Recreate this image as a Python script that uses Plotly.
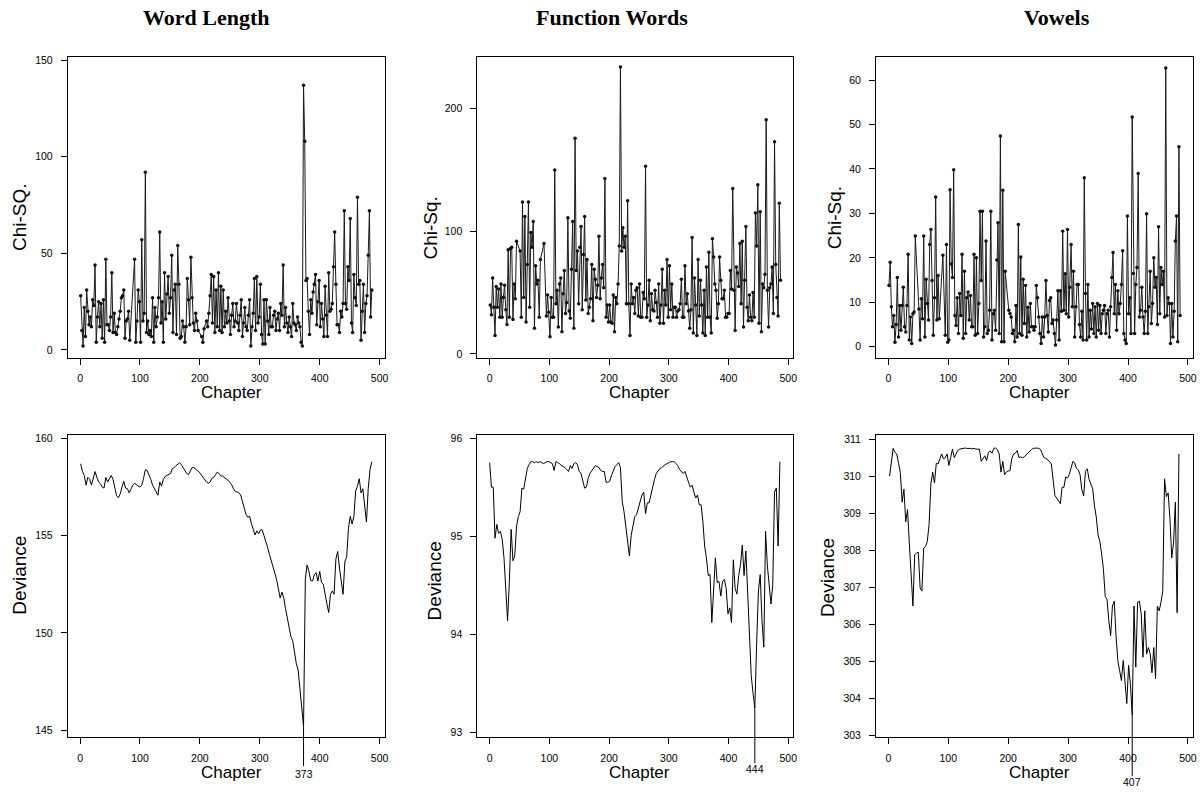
import plotly.graph_objects as go

W, H = 1201, 793

# ---------------- data ----------------
chap_top = list(range(1, 488, 2))

wl_chisq = [
    28, 10, 2, 22, 7, 31, 20, 13, 17, 12, 26, 23, 44, 4, 17, 25, 12, 24, 6, 26,
    4, 47, 13, 13, 10, 17, 40, 9, 19, 9, 8, 12, 16, 20, 27, 28, 31, 6, 15, 16,
    20, 5, None, None, None, 47, 4, 15, 31, 25, 4, 57, 15, 19, 92, 9, 15, 8, 10, 7,
    27, 4, 22, 12, 17, 27, 61, 14, 25, 4, 40, 16, 29, 38, 19, 27, 49, 9, 31, 34,
    8, 54, 34, 6, 7, 15, 12, 4, 12, 37, 26, 13, 48, 27, 14, 10, 19, 15, 10, None,
    None, 7, 4, 11, None, 15, 12, 19, 28, 39, 14, 38, 9, 31, 12, 40, 10, 33, 9, 31,
    12, 20, 14, 27, 15, 8, 18, 24, 12, 15, 24, 14, 10, 18, 26, 7, 14, 22, 12, 10,
    18, 26, 2, 12, 19, 37, 10, 38, 14, 17, 34, 8, 3, 26, 3, 26, 15, 8, 22, 12,
    12, 18, 20, 10, 16, 19, 10, 24, 18, 44, 12, 22, 14, 9, 17, 12, 7, 24, 14, 13,
    10, 17, 14, 12, 4, 2, 137, 108, 36, 37, 20, 8, 26, 19, 30, 34, 39, 13, 25, 36,
    12, 24, 16, 7, 33, 18, 7, 40, 20, 21, 24, 43, 61, 34, 13, 13, 9, 20, 17, 24,
    72, 24, 21, 43, 36, 68, 14, 9, 39, 27, 23, 79, 34, 36, 5, 20, 34, 9, 24, 28,
    49, 72, 17, 31,
]

fw_chisq = [
    40, 32, 62, 38, 15, 55, 38, 53, 30, 57, 30, 46, 56, 36, 24, 85, 30, 86, 87, 28,
    57, 45, 92, None, None, 84, 30, 124, 46, 112, 26, 73, 124, 38, 99, 87, 108, 21, 72, 57,
    60, 30, 77, None, None, 90, None, 31, 48, 34, 14, 46, 30, 30, 150, 41, 52, 22, 57, 62,
    18, 49, 68, 33, 42, 111, 35, 29, 69, 108, 21, 176, 68, 84, 41, 87, 104, 36, 81, 112,
    44, 77, 33, 38, 45, 73, 27, 69, 61, 46, 56, 96, 45, 62, 73, 54, 143, 30, 40, 26,
    40, 26, 25, 48, 18, 46, 41, 57, 88, 234, 84, 103, 87, 96, 41, 125, 41, 15, 57, 41,
    46, 33, 52, 54, 31, 57, 30, 30, 50, 45, 153, 30, 40, 60, 27, 49, 36, 35, 52, 42,
    30, 57, 25, 40, 69, 25, 52, 40, 77, 30, 72, 36, 57, 30, 38, 38, 30, 35, 36, 41,
    61, 30, 30, 72, 41, 49, 35, 21, 36, 95, 17, 62, 40, 15, 77, 31, 60, 40, 17, 52,
    15, 71, 30, 83, 30, 17, 94, 79, 57, 52, 29, 41, 79, 60, 45, 45, 52, 30, 30, 33,
    33, 68, 53, 135, 52, 19, 71, 66, 55, 90, 41, 92, 22, 60, 104, 38, 27, 48, 30, 27,
    50, 30, 115, 88, 138, 25, 116, 18, 57, 54, 65, 191, 52, 22, 54, 57, 71, 33, 173, 73,
    46, 31, 123, 60,
]

vw_chisq = [
    13.8, 19, 9, 4.5, 7, 1, 5, 15.6, 2.2, 9.3, 3.7, 9.3, 13.4, 4.5, 3.3, 9.3, 20.8, 1.5, 6.7, 0.7,
    7.4, 7.8, 24.9, None, None, 8.5, 1.5, 10.8, 6.3, 24.9, 2.2, 15.2, 9.7, 6, 23, 26.4, 14.9, 2.6, 11, 33.7,
    6, 16, 6.3, None, None, 20.6, None, 2.6, 23, 1, 1.5, 35.3, 18.6, 15.6, 39.8, 7, 4.8, 11, 3, 12,
    7, 20.8, 1.9, 17, 3, 11, 12.3, 6, 11.5, 4.5, 4.5, 20.8, 2.6, 20, 3, 9.7, 30.5, 14.9, 30.5, 2.2,
    4.5, 23.8, 3, 3.7, 8.2, 30.5, 1.5, 7.4, 8.2, 3.7, 19.5, 27.9, 3, 47.4, 1.1, 35.2, 1.1, 17, None, None,
    8.2, 7.5, 6.7, 3, 3.7, 1.1, 9.3, 2.2, 27.5, 3, 20.2, 2.6, 15.2, 5.2, 13.8, 2.2, 8.9, 3.3, 9.7, 4.5,
    4.5, 3.7, 4.5, 13.8, 11, 6.7, 3, 0.7, 6.7, 2.2, 6.7, 14.9, 7, 3.3, 10.4, 11, 5.2, 6, 3, 0.4,
    6, 12.6, 1.5, 12.6, 8, 26, 8.2, 16.4, 7.4, 26.4, 6.7, 13.4, 23, 9, 17, 2.2, 9, 14, 14, 5,
    2.2, 8, 1.5, 38, 12, 1.5, 14, 2.2, 8.2, 4, 9.7, 3, 9, 2.2, 9.7, 3.7, 9.3, 3, 7.4, 8.2,
    9.3, 3, 7.4, 8.2, 2.2, 9, 15.6, 21.2, 7.4, 14, 3.7, 12.6, 7.4, 9.7, 14, 21.6, 3, 1.5, 0.7, 29.4,
    7.4, 11, 3, 51.7, 16.5, 3, 14, 17.8, 39, 6.7, 8.2, 13.4, 6.7, 3, 8, 29.9, 3, 9, 17, 5.2,
    9.7, 20, 13.4, 15.6, 5, 27, 7.4, 17.8, 14, 17, 6.7, 62.7, 7, 11, 9.7, 0.7, 9.7, 2.2, 8, 23.8,
    29.4, 1.1, 45, 7,
]

wl_dev_chap = list(range(1, 488, 3))
wl_dev = [
    158.7, 158.3, 158.1, 157.6, 158.0, 157.9, 157.6, 157.9, 158.3, 158.0,
    157.76, 157.67, 157.5, 157.45, 158.0, 157.76, 157.96, 158.1, 157.9, 157.4,
    157.05, 156.95, 157.15, 157.5, 157.8, 157.45, 157.42, 157.2, 157.4, 157.6,
    157.7, 157.6, 157.55, 157.5, 157.6, 157.95, 158.4, 158.35, 158.15, 157.9,
    157.6, 157.4, 157.2, 157.08, 157.76, 157.55, 157.9, 158.05, 158.1, 158.15,
    158.2, 158.45, 158.5, 158.6, 158.68, 158.74, 158.66, 158.52, 158.4, 158.2,
    158.15, 158.3, 158.5, 158.5, 158.44, 158.35, 158.27, 158.15, 158.0, 157.87,
    157.76, 157.7, 157.75, 157.95, 158.0, 158.13, 158.27, 158.2, 158.08, 158.06,
    158.0, 157.94, 157.85, 157.74, 157.62, 157.42, 157.28, 157.25, 157.2, 157.1,
    156.8, 156.45, 156.1, 155.95, 156.0, 155.63, 155.38, 155.04, 155.25, 155.1,
    155.3, 155.3, 155.0, 154.75, 154.4, 154.05, 153.68, 153.34, 153.09, 152.75,
    152.3, 151.8, 152.1, 151.8, 151.25, 150.8, 150.25, 149.8, 149.6, 148.9,
    148.42, 148.1, 147.23, 146.13, 145.2, 152.8, 153.5, 153.17, 152.7, 152.67,
    153.0, 153.1, 152.67, 153.17, 152.6, 152.5, 151.9, 151.5, 151.05, 152.0,
    152.16, 151.99, 153.8, 154.19, 153.34, 152.6, 151.99, 153.68, 153.9, 155.38,
    156.0, 155.6, 155.98, 157.3, 157.55, 157.93, 157.2, 157.42, 156.65, 155.7,
    157.42, 158.4, 158.8,
]

fw_dev_chap = list(range(0, 487, 3))
fw_dev = [
    95.75, 95.5, 95.5, 94.98, 95.12, 95.03, 95.05, 94.97, 94.78, 94.47,
    94.14, 94.54, 95.07, 94.75, 94.8, 95.1, 95.2, 95.25, 95.49, 95.48,
    95.6, 95.69, 95.73, 95.76, 95.76, 95.75, 95.76, 95.75, 95.76, 95.75,
    95.74, 95.75, 95.76, 95.76, 95.75, 95.74, 95.67, 95.76, 95.75, 95.74,
    95.72, 95.71, 95.7, 95.68, 95.66, 95.72, 95.69, 95.74, 95.75, 95.73,
    95.66, 95.64, 95.56, 95.49, 95.5, 95.59, 95.64, 95.67, 95.7, 95.72,
    95.71, 95.7, 95.67, 95.66, 95.66, 95.55, 95.55, 95.56, 95.62, 95.66,
    95.71, 95.73, 95.75, 95.7, 95.35, 95.25, 95.1, 94.91, 94.8, 95.01,
    95.12, 95.2, 95.22, 95.28, 95.35, 95.42, 95.45, 95.23, 95.34, 95.34,
    95.42, 95.52, 95.58, 95.64, 95.67, 95.69, 95.7, 95.72, 95.73, 95.74,
    95.75, 95.76, 95.76, 95.76, 95.74, 95.72, 95.68, 95.66, 95.64, 95.66,
    95.59, 95.55, 95.5, 95.52, 95.45, 95.39, 95.42, 95.32, 95.32, 95.15,
    94.9, 94.78, 94.6, 94.61, 94.12, 94.5, 94.78, 94.53, 94.54, 94.39,
    94.54, 94.56, 94.47, 94.21, 94.27, 94.12, 94.76, 94.47, 94.41, 94.6,
    94.71, 94.91, 94.6, 94.85, 94.45, 94.0, 93.58, 93.4, 93.25, 93.9,
    94.44, 94.61, 94.14, 93.87, 95.05, 94.7, 94.51, 94.31, 94.5, 95.45,
    95.49, 94.9, 95.76,
]

vw_dev_chap = list(range(2, 486, 3))
vw_dev = [
    310.0, 310.45, 310.75, 310.64, 310.6, 310.35, 310.1, 309.3, 309.65, 308.77,
    309.1, 308.2, 307.17, 306.5, 307.88, 307.93, 307.95, 306.99, 306.9, 308.06,
    308.1, 308.24, 308.7, 309.8, 310.11, 309.82, 310.35, 310.33, 310.47, 310.6,
    310.47, 310.5, 310.6, 310.29, 310.5, 310.73, 310.5, 310.62, 310.7, 310.73,
    310.74, 310.76, 310.76, 310.75, 310.76, 310.75, 310.74, 310.75, 310.73, 310.72,
    310.73, 310.4, 310.47, 310.55, 310.42, 310.64, 310.68, 310.62, 310.75, 310.76,
    310.72, 310.6, 310.11, 310.4, 310.04, 310.11, 310.14, 310.15, 310.47, 310.6,
    310.62, 310.69, 310.5, 310.52, 310.5, 310.52, 310.58, 310.63, 310.69, 310.72,
    310.75, 310.76, 310.76, 310.75, 310.72, 310.6, 310.5, 310.48, 310.45, 310.4,
    310.33, 309.9, 309.48, 309.41, 309.35, 309.26, 309.7, 309.7, 309.98, 309.95,
    310.05, 310.2, 310.4, 310.36, 310.21, 310.17, 310.04, 309.63, 309.47, 310.13,
    310.2, 309.92, 309.78, 309.66, 309.2, 308.9, 308.42, 308.24, 307.9, 307.48,
    306.76, 306.68, 306.1, 305.7, 306.5, 306.63, 305.7, 305.03, 304.76, 304.49,
    305.03, 304.3, 303.87, 304.9, 304.4, 303.56, 306.5, 304.85, 306.6, 306.63,
    306.3, 305.12, 306.37, 305.2, 305.38, 305.21, 304.7, 305.38, 304.54, 306.5,
    306.37, 306.6, 306.9, 309.93, 309.45, 309.55, 308.86, 307.8, 308.2, 309.3,
    306.32, 310.6,
]

titles = ["Word Length", "Function Words", "Vowels"]
top_ytitles = ["Chi-SQ.", "Chi-Sq.", "Chi-Sq."]
bottom_ytitle = "Deviance"
xtitle = "Chapter"
x_ticks = [0, 100, 200, 300, 400, 500]
top_yticks = [[0, 50, 100, 150], [0, 100, 200], [0, 10, 20, 30, 40, 50, 60]]
bot_yticks = [[145, 150, 155, 160], [93, 94, 95, 96], list(range(303, 312))]

# ---------------- layout geometry (pixels) ----------------
col_px = [(68, 386), (479, 796), (879, 1197)]
row_px = [(54, 358), (436, 741)]
x_range = [-20.5, 508.5]
top_yranges = [[-4.1, 151.9], [-3.2, 242.6], [-2.5, 65.3]]
bot_yranges = [[144.63, 160.17], [92.95, 96.03], [302.955, 311.107]]

def px2x(px):
    return px / W

def px2y(py):
    return 1 - py / H

TICK_FONT = dict(family="Liberation Sans Narrow, Arial Narrow, Liberation Sans, Arial, sans-serif",
                 size=10.5, color="black")
LAB_FONT = dict(family="Liberation Sans, Arial, sans-serif", size=19, color="black")
NARROW_LAB_FONT = dict(family="Liberation Sans Narrow, Arial Narrow, Liberation Sans, Arial, sans-serif",
                       size=17, color="black")
TITLE_FONT = dict(family="Liberation Serif, Times New Roman, serif", size=22, color="black")

fig = go.Figure()

top_series = [wl_chisq, fw_chisq, vw_chisq]
bot_series = [(wl_dev_chap, wl_dev), (fw_dev_chap, fw_dev), (vw_dev_chap, vw_dev)]

layout = dict(
    width=W, height=H,
    margin=dict(l=0, r=0, t=0, b=0),
    paper_bgcolor="white", plot_bgcolor="white",
    showlegend=False,
)

def axis_common():
    return dict(
        showline=True, linecolor="black", linewidth=1, mirror=True,
        ticks="outside", ticklen=6, tickwidth=1, tickcolor="black",
        showgrid=False, zeroline=False, tickfont=TICK_FONT,
    )

for i in range(3):
    n = i + 1
    xs = "" if n == 1 else str(n)
    fig.add_trace(go.Scatter(
        x=chap_top, y=top_series[i], mode="lines+markers", connectgaps=True,
        line=dict(color="#1a1a1a", width=1),
        marker=dict(color="#111111", size=3.5, symbol="circle"),
        xaxis="x" + xs, yaxis="y" + xs, hoverinfo="skip",
    ))
    ax = axis_common()
    ax.update(domain=[px2x(col_px[i][0]), px2x(col_px[i][1])], range=x_range,
              tickvals=x_ticks, anchor="y" + xs, ticklabelstandoff=5)
    layout["xaxis" + xs] = ax
    ay = axis_common()
    ay.update(domain=[px2y(row_px[0][1]), px2y(row_px[0][0])], range=top_yranges[i],
              tickvals=top_yticks[i], anchor="x" + xs, ticklabelstandoff=6)
    layout["yaxis" + xs] = ay

    m = str(i + 4)
    bx, by = bot_series[i]
    fig.add_trace(go.Scatter(
        x=bx, y=by, mode="lines",
        line=dict(color="black", width=1),
        xaxis="x" + m, yaxis="y" + m, hoverinfo="skip",
    ))
    ax = axis_common()
    ax.update(domain=[px2x(col_px[i][0]), px2x(col_px[i][1])], range=x_range,
              tickvals=x_ticks, anchor="y" + m, ticklabelstandoff=5)
    layout["xaxis" + m] = ax
    ay = axis_common()
    ay.update(domain=[px2y(row_px[1][1]), px2y(row_px[1][0])], range=bot_yranges[i],
              tickvals=bot_yticks[i], anchor="x" + m, ticklabelstandoff=6)
    layout["yaxis" + m] = ay

fig.update_layout(**layout)

annotations = []
title_pos = [(207.5, 15), (614.5, 15), (1061, 15)]
for t, (px, py) in zip(titles, title_pos):
    annotations.append(dict(text="<b>%s</b>" % t, x=px2x(px), y=px2y(py), xref="paper", yref="paper",
                            xanchor="center", yanchor="middle", showarrow=False, font=TITLE_FONT))
top_yt_pos = [(19, 216), (432, 227), (837, 217)]
bot_yt_pos = [(20, 577), (436, 583), (831, 580)]
for t, (px, py) in zip(top_ytitles, top_yt_pos):
    annotations.append(dict(text=t, x=px2x(px), y=px2y(py), xref="paper", yref="paper", textangle=-90,
                            xanchor="center", yanchor="middle", showarrow=False, font=LAB_FONT))
for (px, py) in bot_yt_pos:
    annotations.append(dict(text=bottom_ytitle, x=px2x(px), y=px2y(py), xref="paper", yref="paper",
                            textangle=-90, xanchor="center", yanchor="middle", showarrow=False,
                            font=LAB_FONT))
xt_x = [232, 642, 1043]
for row_y in (393, 776):
    for px in xt_x:
        annotations.append(dict(text=xtitle, x=px2x(px), y=px2y(row_y), xref="paper", yref="paper",
                                xanchor="center", yanchor="middle", showarrow=False,
                                font=NARROW_LAB_FONT))

# minimum markers on deviance panels
line_end_px = [770, 767, 780]
label_px = [778, 773, 786]
shapes = []
for i, (bx, by) in enumerate(bot_series):
    m = str(i + 4)
    vmin = min(by)
    cmin = bx[by.index(vmin)]
    lo, hi = bot_yranges[i]
    top_frac = (vmin - lo) / (hi - lo)
    dom_h = row_px[1][1] - row_px[1][0]
    bot_frac = -(line_end_px[i] - row_px[1][1]) / dom_h
    shapes.append(dict(type="line", xref="x" + m, yref="y" + m + " domain",
                       x0=cmin, x1=cmin, y0=top_frac, y1=bot_frac,
                       line=dict(color="black", width=1)))
    annotations.append(dict(text=str(cmin), x=cmin, y=px2y(label_px[i]), xref="x" + m, yref="paper",
                            xanchor="center", yanchor="middle", showarrow=False, font=TICK_FONT))

fig.update_layout(annotations=annotations, shapes=shapes)

fig.write_html(
    "out.html",
    config={"displayModeBar": False, "staticPlot": True},
    post_script="document.body.style.margin='0px';document.body.style.overflow='hidden';",
)
